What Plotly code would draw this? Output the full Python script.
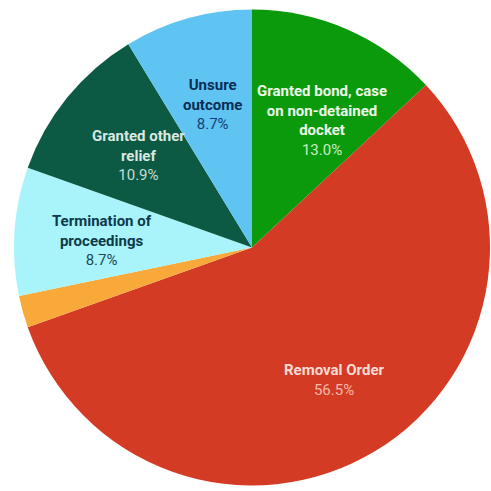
import plotly.graph_objects as go

# Case outcomes (number of cases)
labels = [
    "Granted bond, case on non-detained docket",
    "Removal Order",
    "Other",
    "Termination of proceedings",
    "Granted other relief",
    "Unsure outcome",
]
counts = [6, 26, 1, 4, 5, 4]
colors = ["#0a9a0c", "#d33b24", "#f8a93a", "#a9f3fb", "#0c5a43", "#5fc4f2"]

# Text drawn for each slice: wrapped label lines, then its share
label_lines = [
    ["Granted bond, case", "on non-detained", "docket"],
    ["Removal Order"],
    None,
    ["Termination of", "proceedings"],
    ["Granted other", "relief"],
    ["Unsure", "outcome"],
]
# centre of each text block, in pixels from the top-left corner
label_px = [(322, 120), (334, 380), None, (102, 240), (138, 156), (212, 104)]
label_color = ["#eef8ea", "#f8dcd4", None, "#0d3a4a", "#dbe8e2", "#0b2d55"]
pct_color = ["#c9efc0", "#f6b9aa", None, "#1d4a56", "#c8ddd3", "#14407a"]

W = H = 491
total = sum(counts)

fig = go.Figure(
    go.Pie(
        labels=labels,
        values=counts,
        sort=False,
        direction="clockwise",
        rotation=0,
        marker=dict(colors=colors, line=dict(width=0)),
        textinfo="none",
        hoverinfo="label+percent",
        domain=dict(x=[14 / W, 490 / W], y=[3 / H, 484 / H]),
    )
)

annotations = []
for lines, pos, lc, pc, v in zip(label_lines, label_px, label_color, pct_color, counts):
    if lines is None:
        continue
    body = "<br>".join(f"<b>{ln}</b>" for ln in lines)
    pct = f"{v / total * 100:.1f}%"
    text = f"<span style='color:{lc}'>{body}</span><br><span style='color:{pc}'>{pct}</span>"
    annotations.append(
        dict(
            x=pos[0] / W, y=1 - pos[1] / H, xref="paper", yref="paper",
            xanchor="center", yanchor="middle",
            text=text, showarrow=False, align="center",
            font=dict(family="Roboto", size=15),
        )
    )

fig.update_layout(
    width=W,
    height=H,
    margin=dict(l=0, r=0, t=0, b=0),
    paper_bgcolor="white",
    plot_bgcolor="white",
    showlegend=False,
    annotations=annotations,
)

fig.write_html("out.html")
